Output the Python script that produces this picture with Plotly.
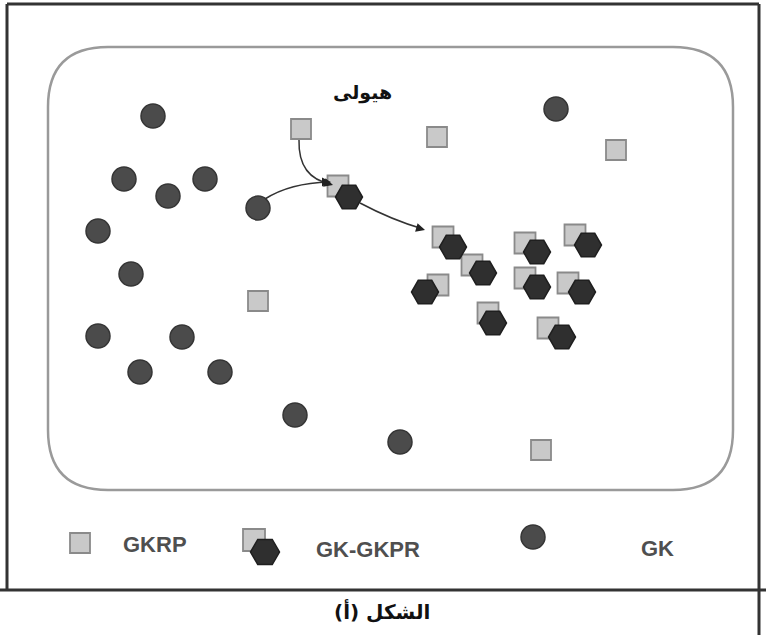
import plotly.graph_objects as go

# GK (free glucokinase) circles
gk_x = [153, 124, 168, 205, 98, 131, 98, 182, 140, 220, 258, 556, 295, 400]
gk_y = [116, 179, 196, 179, 231, 274, 336, 337, 372, 372, 208, 109, 415, 442]

# GKRP squares
gkrp_x = [301, 437, 616, 258, 541]
gkrp_y = [129, 137, 150, 301, 450]

# GK-GKRP complexes: square (behind) + hexagon (front)
cx_sq_x = [338, 443, 525, 575, 472, 525, 568, 438, 488, 548]
cx_sq_y = [186, 237, 243, 235, 265, 278, 283, 285, 313, 328]
cx_hx_x = [349, 453, 537, 588, 483, 537, 582, 425, 493, 562]
cx_hx_y = [197, 247, 252, 245, 273, 287, 292, 292, 323, 337]

# legend
leg_sq = (80, 543)
leg_pair_sq = (254, 540)
leg_pair_hx = (265, 552)
leg_circle = (533, 537)
leg_labels = ["GKRP", "GK-GKPR", "GK"]
leg_label_x = [155, 368, 657]
leg_label_y = [544, 549, 548]

cyto_label = "هيولى"
fig_title = "الشكل (أ)"

SQ_FILL, SQ_LINE = "#c9c9c9", "#8a8a8a"
GK_FILL, GK_LINE = "#4b4b4b", "#353535"
HX_FILL, HX_LINE = "#2f2f2f", "#1f1f1f"

fig = go.Figure()

def add_pts(xs, ys, symbol, size, fill, line, lw):
    fig.add_trace(go.Scatter(x=xs, y=ys, mode="markers", hoverinfo="skip",
                             marker=dict(symbol=symbol, size=size, color=fill,
                                         line=dict(color=line, width=lw))))

add_pts(gk_x, gk_y, "circle", 24, GK_FILL, GK_LINE, 1.5)
add_pts(gkrp_x, gkrp_y, "square", 20, SQ_FILL, SQ_LINE, 1.8)
add_pts(cx_sq_x, cx_sq_y, "square", 21, SQ_FILL, SQ_LINE, 1.8)
add_pts(cx_hx_x, cx_hx_y, "hexagon2", 27, HX_FILL, HX_LINE, 1.5)

# legend markers
add_pts([leg_sq[0]], [leg_sq[1]], "square", 20, SQ_FILL, SQ_LINE, 1.8)
add_pts([leg_pair_sq[0]], [leg_pair_sq[1]], "square", 22, SQ_FILL, SQ_LINE, 1.8)
add_pts([leg_pair_hx[0]], [leg_pair_hx[1]], "hexagon2", 29, HX_FILL, HX_LINE, 1.5)
add_pts([leg_circle[0]], [leg_circle[1]], "circle", 24, GK_FILL, GK_LINE, 1.5)

shapes = []
# outer frame
for (x0, y0, x1, y1) in [(7, 4, 759, 4), (7, 4, 7, 590), (759, 4, 759, 635), (0, 590, 766, 590)]:
    shapes.append(dict(type="line", xref="x", yref="y", x0=x0, y0=y0, x1=x1, y1=y1,
                       line=dict(color="#333333", width=3)))
# rounded cell outline
r = 60
L, R, T, B = 48, 733, 47, 490
path = (f"M {L+r},{T} L {R-r},{T} Q {R},{T} {R},{T+r} L {R},{B-r} Q {R},{B} {R-r},{B} "
        f"L {L+r},{B} Q {L},{B} {L},{B-r} L {L},{T+r} Q {L},{T} {L+r},{T} Z")
shapes.append(dict(type="path", xref="x", yref="y", path=path,
                   line=dict(color="#9a9a9a", width=2.5), layer="below"))
# arrows (curves)
shapes.append(dict(type="path", xref="x", yref="y", path="M 299,140 Q 298,178 331,184",
                   line=dict(color="#333", width=1.5)))
shapes.append(dict(type="path", xref="x", yref="y", path="M 265,199 Q 290,183 329,182",
                   line=dict(color="#333", width=1.5)))
shapes.append(dict(type="path", xref="x", yref="y", path="M 360,203 Q 392,220 423,229",
                   line=dict(color="#333", width=1.5)))

annotations = []
for (x, y, ax, ay) in [(333, 185, 326, 183), (331, 182, 324, 182), (425, 230, 418, 228)]:
    annotations.append(dict(x=x, y=y, ax=ax, ay=ay, xref="x", yref="y", axref="x", ayref="y",
                            text="", showarrow=True, arrowhead=2, arrowsize=1.2,
                            arrowwidth=1.5, arrowcolor="#222"))

annotations.append(dict(x=362, y=92, xref="x", yref="y", text=f"<b>{cyto_label}</b>", showarrow=False,
                        font=dict(family="DejaVu Sans", size=19, color="#111")))
annotations.append(dict(x=382, y=611, xref="x", yref="y", text=f"<b>{fig_title}</b>", showarrow=False,
                        font=dict(family="DejaVu Sans", size=20, color="#111")))
for t, x, y in zip(leg_labels, leg_label_x, leg_label_y):
    annotations.append(dict(x=x, y=y, xref="x", yref="y", text=f"<b>{t}</b>", showarrow=False,
                            font=dict(family="Liberation Sans", size=22, color="#4f4f4f")))

fig.update_layout(
    width=766, height=635, autosize=False,
    margin=dict(l=0, r=0, t=0, b=0),
    paper_bgcolor="white", plot_bgcolor="white",
    showlegend=False,
    xaxis=dict(range=[0, 766], visible=False, fixedrange=True),
    yaxis=dict(range=[635, 0], visible=False, fixedrange=True),
    shapes=shapes, annotations=annotations,
)

fig.write_html("out.html", config={"displayModeBar": False},
               post_script="document.body.style.margin='0';document.body.style.overflow='hidden';")
